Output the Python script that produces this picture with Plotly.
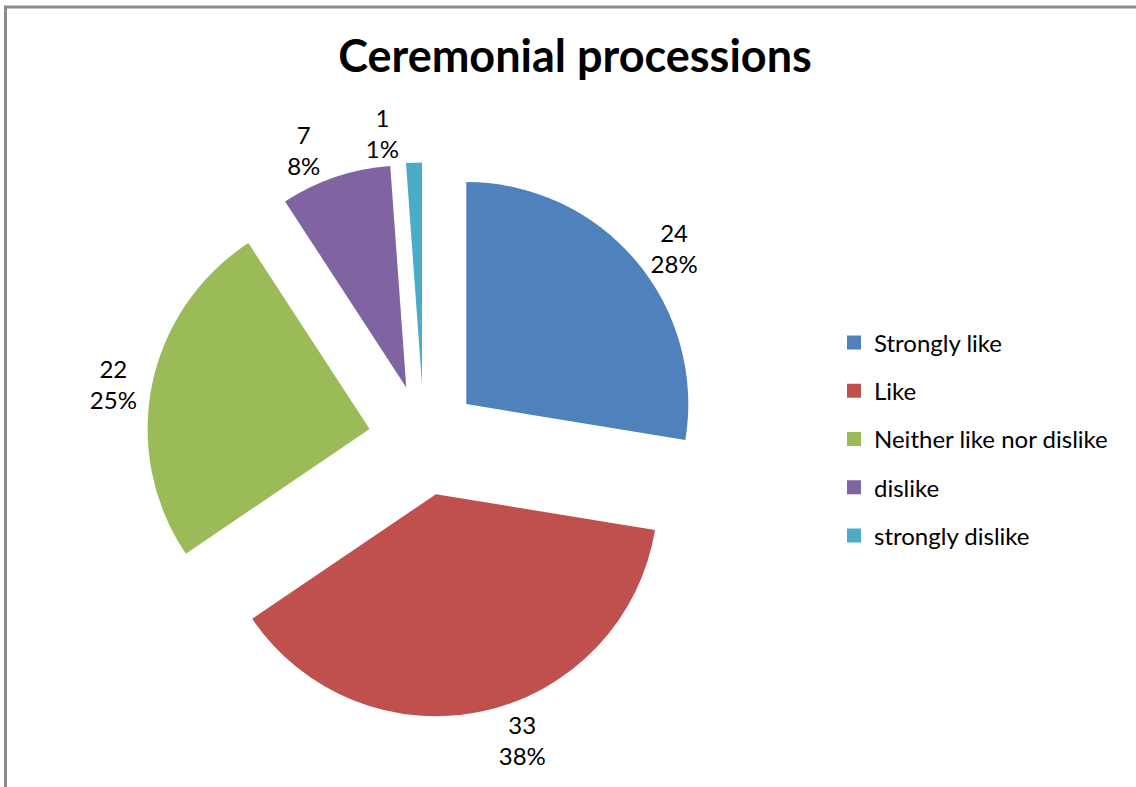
import plotly.graph_objects as go

# ---- data ----
categories = ["Strongly like", "Like", "Neither like nor dislike", "dislike", "strongly dislike"]
counts = [24, 33, 22, 7, 1]
colors = ["#4F81BD", "#C0504D", "#9BBB59", "#8064A2", "#4BACC6"]
title_text = "Ceremonial processions"

W, H = 1136, 787
FONT = "Lato, Carlito, Calibri, sans-serif"
LABEL_TPL = "%{value}<br>%{percent:.0%}"
n = len(counts)
domain = dict(x=[146.5 / W, 701.5 / W], y=[1 - 717.5 / H, 1 - 162.5 / H])
PULL = 0.25

fig = go.Figure()

# main pie: labels for all slices except the last (tiny) one
fig.add_trace(go.Pie(
    labels=categories,
    values=counts,
    sort=False,
    direction="clockwise",
    rotation=0,
    pull=PULL,
    marker=dict(colors=colors, line=dict(width=0)),
    textposition=["outside"] * (n - 1) + ["none"],
    texttemplate=LABEL_TPL,
    outsidetextfont=dict(family=FONT, size=24, color="black"),
    showlegend=False,
    domain=domain,
    hoverinfo="label+value+percent",
))

# identical transparent pie carrying only the last slice's label
# (so Plotly does not push it away from the neighbouring label)
fig.add_trace(go.Pie(
    labels=categories,
    values=counts,
    sort=False,
    direction="clockwise",
    rotation=0,
    pull=PULL,
    marker=dict(colors=["rgba(0,0,0,0)"] * n, line=dict(width=0)),
    textposition=["none"] * (n - 1) + ["outside"],
    texttemplate=LABEL_TPL,
    outsidetextfont=dict(family=FONT, size=24, color="black"),
    showlegend=False,
    domain=domain,
    hoverinfo="skip",
))

# legend entries (one per category, same colours as the slices)
for i, (cat, col) in enumerate(zip(categories, colors)):
    fig.add_trace(go.Scatter(
        x=[None], y=[None], mode="markers", name=cat,
        marker=dict(symbol="square", size=14, color=col),
        legendgroup=f"g{i}", showlegend=True, hoverinfo="skip",
    ))

fig.update_layout(
    width=W, height=H,
    margin=dict(l=0, r=0, t=0, b=0, autoexpand=False),
    paper_bgcolor="white",
    plot_bgcolor="white",
    xaxis=dict(visible=False),
    yaxis=dict(visible=False),
    font=dict(family=FONT, color="black"),
    title=dict(
        text="<b>" + title_text + "</b>",
        font=dict(family=FONT, size=45, color="black"),
        x=575 / W, xanchor="center",
        y=1 - 56 / H, yanchor="middle", yref="container", xref="container",
    ),
    legend=dict(
        x=834 / W, xanchor="left",
        y=1 - 320.5 / H, yanchor="top",
        font=dict(family=FONT, size=24, color="black"),
        tracegroupgap=14,
        bgcolor="rgba(0,0,0,0)",
    ),
    shapes=[dict(
        type="rect", xref="paper", yref="paper",
        x0=5.5 / W, x1=1.2, y0=-0.2, y1=1 - 7 / H,
        line=dict(color="#8C8C8C", width=3), fillcolor="rgba(0,0,0,0)",
        layer="above",
    )],
)

fig.write_html(
    "out.html",
    config={"displayModeBar": False},
    post_script="document.body.style.margin='0';",
)
